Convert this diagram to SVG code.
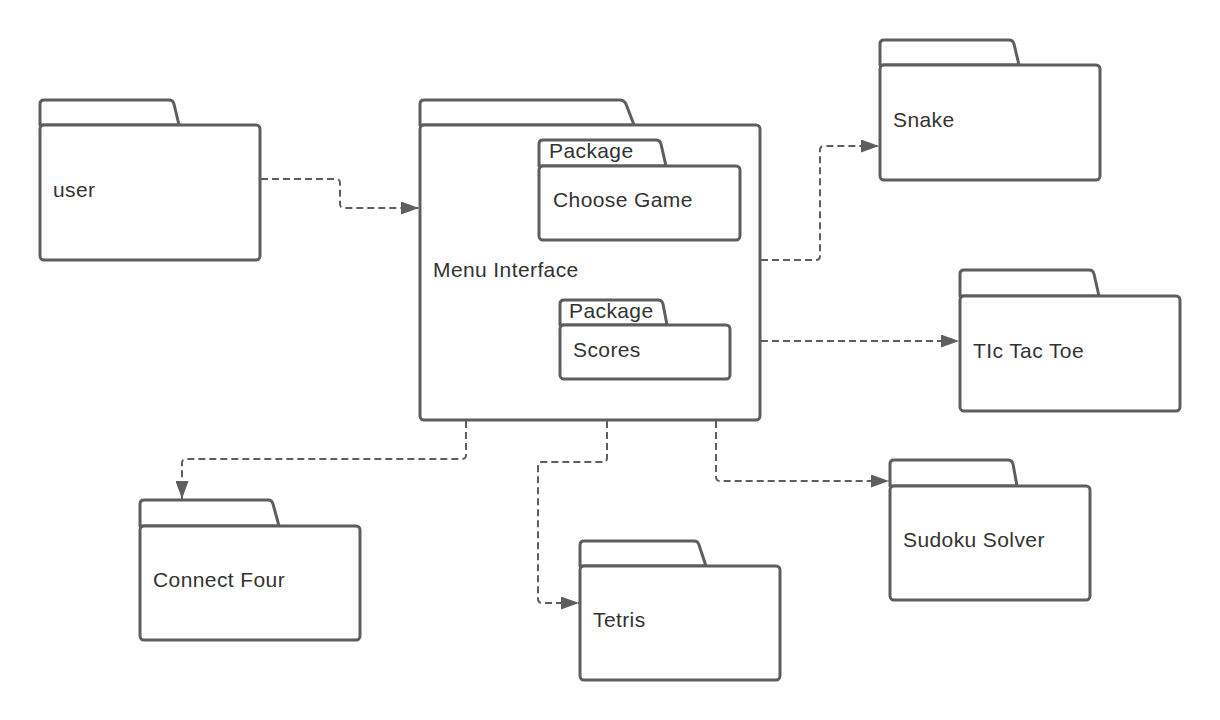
<svg xmlns="http://www.w3.org/2000/svg" width="1220" height="720" viewBox="0 0 1220 720">
<style>
.pk{fill:#fff;stroke:#5e5e5e;stroke-width:3;stroke-linejoin:round}
.t{font-family:"Liberation Sans",Arial,sans-serif;font-size:21px;fill:#333;letter-spacing:0.4px}
.c{fill:none;stroke:#5e5e5e;stroke-width:2;stroke-dasharray:7 4}
</style>
<defs>
<marker id="ah" markerUnits="userSpaceOnUse" markerWidth="19" markerHeight="13" refX="18" refY="6.5" orient="auto">
<path d="M0,0 L18,6.5 L0,13 Z" fill="#5e5e5e"/>
</marker>
</defs>
<rect width="1220" height="720" fill="#fff"/>
<g id="connectors">
<path class="c" marker-end="url(#ah)" d="M261,179 H336 Q340,179 340,183 V204 Q340,208 344,208 H419"/>
<path class="c" marker-end="url(#ah)" d="M761,260 H816 Q820,260 820,256 V150 Q820,146 824,146 H879"/>
<path class="c" marker-end="url(#ah)" d="M761,341 H959"/>
<path class="c" marker-end="url(#ah)" d="M716,421 V477 Q716,481 720,481 H889"/>
<path class="c" marker-end="url(#ah)" d="M466,421 V455 Q466,459 462,459 H186 Q182,459 182,463 V499"/>
<path class="c" marker-end="url(#ah)" d="M607,421 V458 Q607,462 603,462 H542 Q538,462 538,466 V599 Q538,603 542,603 H579"/>
</g>
<g id="user">
<path class="pk" d="M40,125 V104 Q40,100 44,100 H169 Q173,100 174,104 L179,125 Z"/>
<rect class="pk" x="40" y="125" width="220" height="135" rx="4"/>
<text class="t" x="53" y="197">user</text>
</g>
<g id="menu-interface">
<path class="pk" d="M420,125 V104 Q420,100 424,100 H620 Q624,100 626,104 L634,125 Z"/>
<rect class="pk" x="420" y="125" width="340" height="295" rx="4"/>
<text class="t" x="433" y="277">Menu Interface</text>
<g id="choose-game">
<path class="pk" d="M539,166 V144 Q539,140 543,140 H656 Q660,140 661,144 L666,166 Z"/>
<rect class="pk" x="539" y="166" width="201" height="74" rx="4"/>
<text class="t" x="549" y="158">Package</text>
<text class="t" x="553" y="207">Choose Game</text>
</g>
<g id="scores">
<path class="pk" d="M560,325 V304 Q560,300 564,300 H658 Q662,300 663,304 L667,325 Z"/>
<rect class="pk" x="560" y="325" width="170" height="54" rx="4"/>
<text class="t" x="569" y="318">Package</text>
<text class="t" x="573" y="357">Scores</text>
</g>
</g>
<g id="snake">
<path class="pk" d="M880,65 V44 Q880,40 884,40 H1009 Q1013,40 1014,44 L1019,65 Z"/>
<rect class="pk" x="880" y="65" width="220" height="115" rx="4"/>
<text class="t" x="893" y="127">Snake</text>
</g>
<g id="tic-tac-toe">
<path class="pk" d="M960,296 V274 Q960,270 964,270 H1089 Q1093,270 1094,274 L1099,296 Z"/>
<rect class="pk" x="960" y="296" width="220" height="115" rx="4"/>
<text class="t" x="973" y="358">TIc Tac Toe</text>
</g>
<g id="sudoku-solver">
<path class="pk" d="M890,486 V464 Q890,460 894,460 H1008 Q1012,460 1013,464 L1017,486 Z"/>
<rect class="pk" x="890" y="486" width="200" height="114" rx="4"/>
<text class="t" x="903" y="547">Sudoku Solver</text>
</g>
<g id="connect-four">
<path class="pk" d="M140,526 V504 Q140,500 144,500 H268 Q272,500 273,504 L279,526 Z"/>
<rect class="pk" x="140" y="526" width="220" height="114" rx="4"/>
<text class="t" x="153" y="587">Connect Four</text>
</g>
<g id="tetris">
<path class="pk" d="M580,566 V545 Q580,541 584,541 H694 Q698,541 699,545 L706,566 Z"/>
<rect class="pk" x="580" y="566" width="200" height="114" rx="4"/>
<text class="t" x="593" y="627">Tetris</text>
</g>
</svg>
